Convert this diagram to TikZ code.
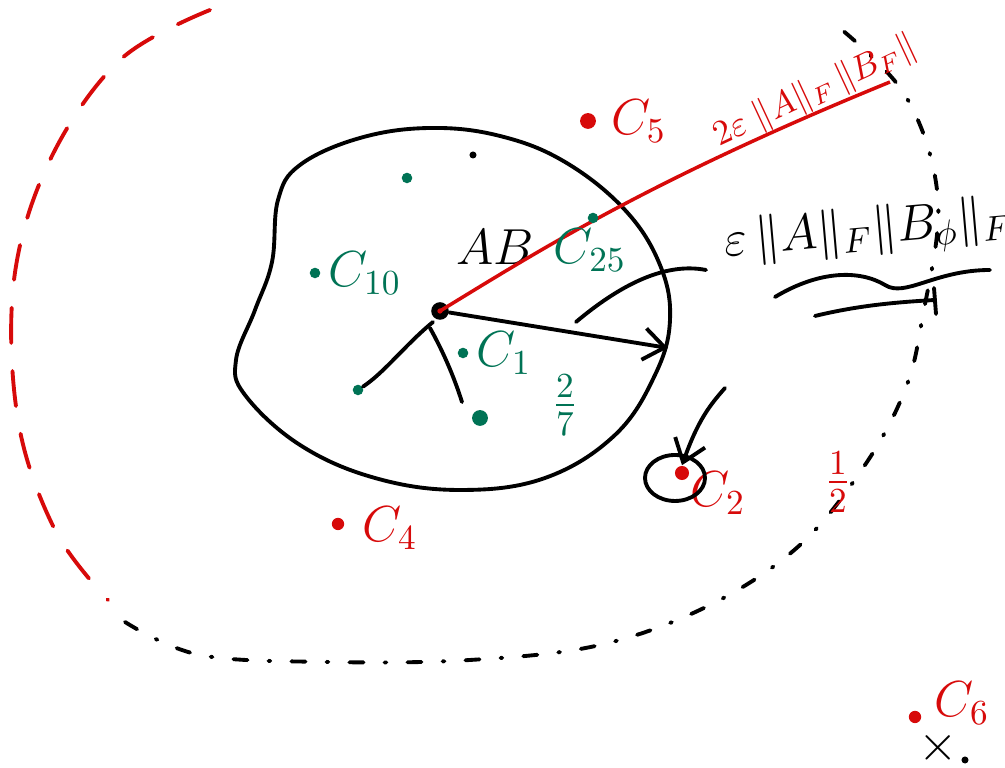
\documentclass[tikz,border=0pt]{standalone}
\usepackage{xcolor}
\usepackage{tikz}
\usetikzlibrary{arrows.meta,positioning}

\definecolor{inkred}{RGB}{215,10,10}
\definecolor{inkgreen}{RGB}{0,115,85}

\begin{document}
\begin{tikzpicture}[
  x=0.01cm, y=-0.01cm,
  ink/.style={line width=1.1pt, line cap=round, line join=round},
  dotg/.style={circle, fill=inkgreen, inner sep=0pt, minimum size=3pt},
  dotr/.style={circle, fill=inkred, inner sep=0pt, minimum size=3.5pt},
  lblg/.style={text=inkgreen, font=\Large, inner sep=1pt},
  lblr/.style={text=inkred, font=\Large, inner sep=1pt},
  arr/.style={ink, -{Straight Barb[length=6pt, width=9pt]}}
]
  \useasboundingbox (0,0) rectangle (1005,768);

  % outer dashed region
  \draw[inkred, ink, dash pattern=on 10pt off 8pt]
    plot[smooth, tension=0.6] coordinates {(210,10) (120,60) (50,160) (14,280) (18,420) (55,530) (108,600)};
  \draw[ink, dash pattern=on 4pt off 6pt on 0.5pt off 6pt]
    plot[smooth, tension=0.6] coordinates {(125,622) (200,655) (330,662) (470,660) (600,645) (710,605) (800,545) (865,465) (905,390) (922,320) (938,200) (905,95) (830,20)};

  % the blob
  \draw[ink] plot[smooth cycle, tension=0.65] coordinates {(300,165) (360,138) (430,128) (500,136) (565,162) (625,210) (660,265) (670,320) (655,375) (615,435) (545,478) (460,490) (375,478) (300,445) (245,395) (236,360) (255,310) (272,262) (278,200)};

  % centre and spokes
  \node[circle, fill=black, inner sep=0pt, minimum size=5pt] (ab) at (440,311) {};
  \node[circle, fill=inkred, inner sep=0pt, minimum size=1.5pt] at (ab) {};
  \node[font=\Large, inner sep=1pt] (ablbl) at (495,247) {$AB$};

  \coordinate (redend) at (890,82);
  \draw[inkred, line width=1pt] (ab.center) .. controls (540,250) and (650,180) .. (redend);
  \node[lblr, font=\normalsize, rotate=25] (twoeps) at (815,92) {$2\varepsilon\;\|A\|_F\,\|B_F\|$};

  \coordinate (rim) at (668,348);
  \draw[arr] (ab) -- (rim);

  \node[dotg] (g1) at (358,390) {};
  \node[dotg, minimum size=4.5pt] (g2) at (480,418) {};
  \draw[ink] (433,322) .. controls (405,345) and (385,372) .. (g1);
  \draw[ink] (430,328) .. controls (445,355) and (455,380) .. (462,402);

  % green points
  \node[dotg] (g0) at (407,178) {};
  \node[circle, fill=black, inner sep=0pt, minimum size=2pt] (g9) at (473,155) {};
  \node[dotg] (c10) at (315,273) {};
  \node[lblg, right=1pt of c10] {$C_{10}$};
  \node[dotg] (c1) at (463,353) {};
  \node[lblg, right=1pt of c1] {$C_{1}$};
  \node[dotg] (c25) at (593,218) {};
  \node[lblg] at (590,250) {$C_{25}$};
  \node[lblg] at (565,405) {$\frac{2}{7}$};

  % red points
  \node[dotr, minimum size=4.5pt] (c5) at (588,121) {};
  \node[lblr, right=3pt of c5] {$C_5$};
  \node[dotr, minimum size=4pt] (c2) at (682,473) {};
  \node[lblr] at (718,493) {$C_2$};
  \draw[ink] (675,478) ellipse [x radius=30, y radius=23];
  \node[dotr] (c4) at (338,524) {};
  \node[lblr] at (390,528) {$C_4$};
  \node[dotr] (c6) at (915,717) {};
  \node[lblr] at (962,703) {$C_6$};
  \node[lblr] at (838,482) {$\frac{1}{2}$};

  \coordinate (pointer) at (725,388);
  \draw[arr] (pointer) .. controls (710,405) and (698,420) .. (c2.north);

  % right-hand bound
  \node[font=\Large, inner sep=1pt, rotate=5] (epsbd) at (868,232) {$\varepsilon\,\|A\|_F\|B_\phi\|_F$};
  \coordinate (bend) at (576,322);
  \draw[ink] (bend) .. controls (620,285) and (665,262) .. (706,270);
  \draw[ink] (775,297) .. controls (820,270) and (860,270) .. (885,285) .. controls (905,298) and (935,270) .. (990,270);
  \draw[ink] (815,316) .. controls (860,305) and (900,302) .. (935,300);
  \draw[ink] (934,288) -- (936,314);

  \node[font=\Large, inner sep=0pt] (xmark) at (938,748) {$\times$};
  \node[circle, fill=black, inner sep=0pt, minimum size=2pt] at (965,760) {};
\end{tikzpicture}
\end{document}
